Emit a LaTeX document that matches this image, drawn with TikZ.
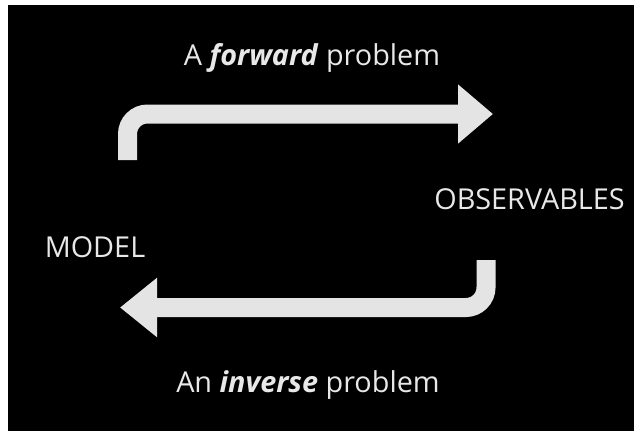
\documentclass[tikz,border=0pt]{standalone}
\usepackage{fontspec}
\setmainfont{Open Sans}
\usepackage{tikz}
\usetikzlibrary{arrows.meta,positioning}
\definecolor{cBand}{RGB}{228,228,228}
\definecolor{cText}{RGB}{232,232,232}

\begin{document}
\begin{tikzpicture}[x=1pt, y=-1pt,
  lbl/.style={text=cText, inner sep=0pt, font=\fontsize{28.8}{34}\selectfont},
  band/.style={draw=cBand, line width=19pt, rounded corners=20pt}]
\useasboundingbox (0,0) rectangle (634,431);
\fill[white] (0,0) rectangle (634,431);
\fill[black] (8,5) rectangle (634,431);
% labels
\node[lbl, anchor=base] (fwd) at (312,65) {A \textbf{\textit{forward}} problem};
\node[lbl, anchor=base] (inv) at (308,392) {An \textbf{\textit{inverse}} problem};
\node[lbl] (model) at (95,247) {MODEL};
\node[lbl] (obs) at (529.5,199) {OBSERVABLES};
% arrow ends
\coordinate (fstart) at (127.5,160);
\coordinate (ftip) at (493,114);
\coordinate (istart) at (486,260);
\coordinate (itip) at (120,307.5);
\draw[band, -{Triangle[width=57pt, length=35pt]}] (fstart) |- (ftip);
\draw[band, -{Triangle[width=57pt, length=37pt]}] (istart) |- (itip);
\end{tikzpicture}
\end{document}
